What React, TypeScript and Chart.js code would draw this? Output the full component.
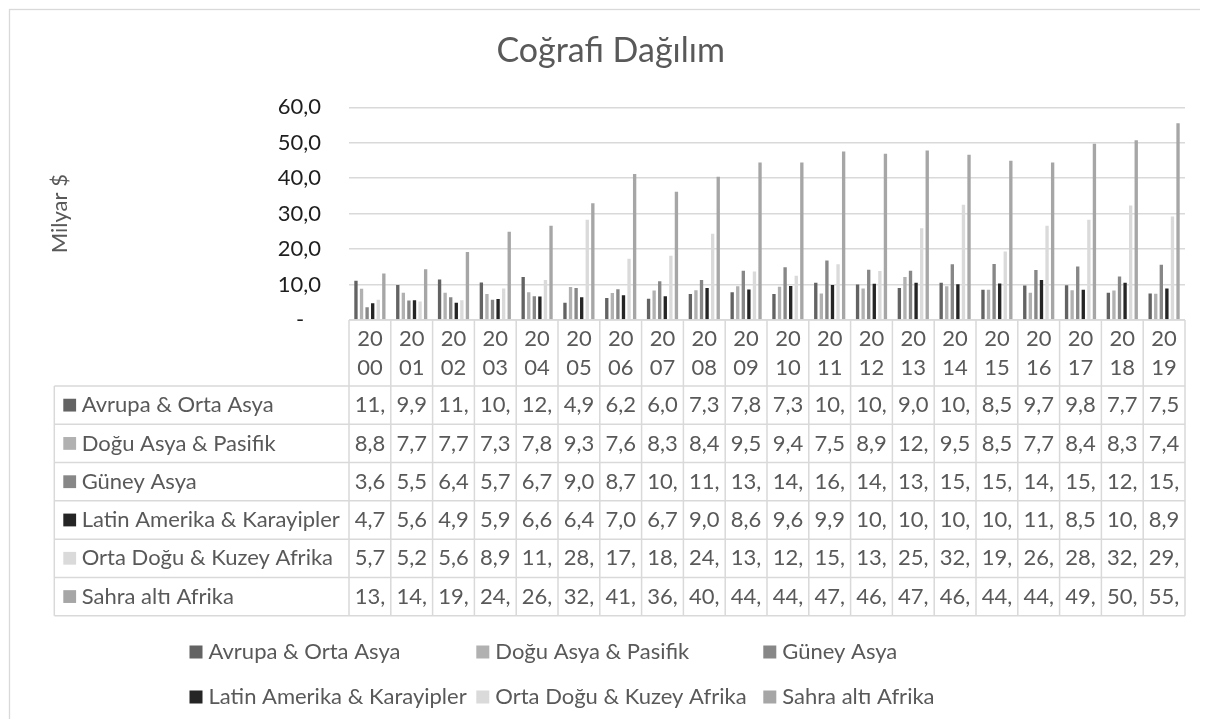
import React, { useEffect, useRef } from 'react';
import { Chart, registerables } from 'chart.js';

Chart.register(...registerables);

const years = ['2000', '2001', '2002', '2003', '2004', '2005', '2006', '2007', '2008', '2009', '2010', '2011', '2012', '2013', '2014', '2015', '2016', '2017', '2018', '2019'];

const seriesNames = ['Avrupa & Orta Asya', 'Doğu Asya & Pasifik', 'Güney Asya', 'Latin Amerika & Karayipler', 'Orta Doğu & Kuzey Afrika', 'Sahra altı Afrika'];

const avrupaOrtaAsya = [11.1, 9.9, 11.4, 10.6, 12.1, 4.9, 6.2, 6.0, 7.3, 7.8, 7.3, 10.5, 10.0, 9.0, 10.5, 8.5, 9.7, 9.8, 7.7, 7.5];
const doguAsyaPasifik = [8.8, 7.7, 7.7, 7.3, 7.8, 9.3, 7.6, 8.3, 8.4, 9.5, 9.4, 7.5, 8.9, 12.1, 9.5, 8.5, 7.7, 8.4, 8.3, 7.4];
const guneyAsya = [3.6, 5.5, 6.4, 5.7, 6.7, 9.0, 8.7, 10.9, 11.3, 13.9, 14.9, 16.8, 14.2, 13.9, 15.7, 15.8, 14.1, 15.1, 12.3, 15.6];
const latinAmerika = [4.7, 5.6, 4.9, 5.9, 6.6, 6.4, 7.0, 6.7, 9.0, 8.6, 9.6, 9.9, 10.2, 10.5, 10.1, 10.3, 11.3, 8.5, 10.5, 8.9];
const ortaDoguKuzeyAfrika = [5.7, 5.2, 5.6, 8.9, 11.3, 28.3, 17.3, 18.1, 24.3, 13.7, 12.5, 15.7, 13.8, 25.9, 32.5, 19.3, 26.6, 28.3, 32.3, 29.2];
const sahraAltiAfrika = [13.1, 14.3, 19.2, 24.9, 26.6, 32.9, 41.2, 36.2, 40.4, 44.4, 44.4, 47.5, 46.9, 47.8, 46.6, 44.9, 44.4, 49.7, 50.7, 55.5];

const seriesValues = [avrupaOrtaAsya, doguAsyaPasifik, guneyAsya, latinAmerika, ortaDoguKuzeyAfrika, sahraAltiAfrika];
const seriesColors = ['#636363', '#b1b1b1', '#878787', '#252525', '#dadada', '#a6a6a6'];

const yTicks = [0, 10, 20, 30, 40, 50, 60];
const chartTitle = 'Coğrafi Dağılım';
const yTitle = 'Milyar $';

const FONT = 'Lato, "Noto Sans", sans-serif';
const TEXT = '#595959';
const LINE = '#d9d9d9';
const FS = 22;

function fmt(v: number) {
  return v.toFixed(1).replace('.', ',');
}

export default function App() {
  const ref = useRef<HTMLCanvasElement>(null);

  useEffect(() => {
    const canvas = ref.current;
    if (!canvas) return;

    const bgPlugin = {
      id: 'bgBorder',
      beforeDraw(chart: any) {
        const ctx = chart.ctx;
        ctx.save();
        ctx.fillStyle = '#ffffff';
        ctx.fillRect(0, 0, chart.width, chart.height);
        ctx.strokeStyle = LINE;
        ctx.lineWidth = 1.3;
        ctx.strokeRect(1.5, 1.5, chart.width + 50, chart.height + 50);
        ctx.restore();
      },
    };

    const tablePlugin = {
      id: 'tableLegend',
      afterDraw(chart: any) {
        const ctx = chart.ctx;
        const area = chart.chartArea;
        const n = years.length;
        const colW = (area.right - area.left) / n;
        const headTop = area.bottom;
        const headBottom = 378;
        const tableBottom = 607.7;
        const tableLeft = 46.3;
        const rowH = (tableBottom - headBottom) / seriesNames.length;

        ctx.save();
        // title
        ctx.fillStyle = TEXT;
        ctx.font = `34px ${FONT}`;
        ctx.textAlign = 'center';
        ctx.textBaseline = 'alphabetic';
        ctx.fillText(chartTitle, 602.7, 54);

        // grid lines
        ctx.strokeStyle = LINE;
        ctx.lineWidth = 1.5;
        ctx.beginPath();
        ctx.moveTo(area.left, headTop);
        ctx.lineTo(area.right, headTop);
        for (let r = 0; r <= seriesNames.length; r++) {
          const y = headBottom + r * rowH;
          ctx.moveTo(tableLeft, y);
          ctx.lineTo(area.right, y);
        }
        ctx.moveTo(tableLeft, headBottom);
        ctx.lineTo(tableLeft, tableBottom);
        for (let i = 0; i <= n; i++) {
          const x = area.left + i * colW;
          ctx.moveTo(x, headTop);
          ctx.lineTo(x, tableBottom);
        }
        ctx.stroke();

        // header years
        ctx.fillStyle = TEXT;
        ctx.font = `${FS}px ${FONT}`;
        ctx.textAlign = 'center';
        ctx.textBaseline = 'middle';
        years.forEach((yr, i) => {
          const cx = chart.scales.x.getPixelForValue(i);
          ctx.fillText(yr.slice(0, 2), cx, 331);
          ctx.fillText(yr.slice(2), cx, 360);
        });

        // rows
        seriesNames.forEach((name, r) => {
          const cy = headBottom + r * rowH + rowH / 2;
          ctx.fillStyle = chart.data.datasets[r].backgroundColor;
          ctx.fillRect(55.3, cy - 6.4, 12.8, 12.8);
          ctx.fillStyle = TEXT;
          ctx.textAlign = 'left';
          ctx.fillText(name, 73.7, cy);
          ctx.textAlign = 'center';
          const vals = chart.data.datasets[r].data as number[];
          vals.forEach((v, i) => {
            let s = fmt(v);
            while (s.length > 1 && ctx.measureText(s).width > colW - 3) s = s.slice(0, -1);
            const cx = chart.scales.x.getPixelForValue(i);
            ctx.fillText(s, cx, cy);
          });
        });

        // legend
        const lx = [181.5, 468.3, 755.3];
        const ly = [644, 689];
        chart.data.datasets.forEach((ds: any, k: number) => {
          const x = lx[k % 3];
          const y = ly[Math.floor(k / 3)];
          ctx.fillStyle = ds.backgroundColor;
          ctx.fillRect(x, y - 6.5, 13, 13);
          ctx.fillStyle = TEXT;
          ctx.textAlign = 'left';
          ctx.fillText(ds.label, x + 19, y);
        });
        ctx.restore();
      },
    };

    const chart = new Chart(canvas, {
      type: 'bar',
      data: {
        labels: years,
        datasets: seriesNames.map((name, k) => ({
          label: name,
          data: seriesValues[k],
          backgroundColor: seriesColors[k],
          borderWidth: 0,
          categoryPercentage: 0.8,
          barPercentage: 0.6,
        })),
      },
      options: {
        responsive: false,
        animation: false,
        devicePixelRatio: 1,
        layout: { padding: { top: 99.3, left: 0, right: 23, bottom: 399 } },
        plugins: {
          legend: { display: false },
          title: { display: false },
          tooltip: { enabled: false },
        },
        scales: {
          x: { display: false },
          y: {
            min: 0,
            max: 60,
            afterFit(scale: any) {
              scale.width = 341;
            },
            afterBuildTicks(scale: any) {
              scale.ticks = yTicks.map((v) => ({ value: v }));
            },
            ticks: {
              padding: 28,
              color: '#1e1e1e',
              font: { family: FONT, size: FS },
              callback: (v: any) => (Number(v) === 0 ? '-   ' : fmt(Number(v))),
            },
            grid: { color: LINE, lineWidth: 1.5, drawTicks: false },
            border: { display: false },
            title: {
              display: true,
              text: yTitle,
              color: TEXT,
              font: { family: FONT, size: FS },
              padding: { top: 38.5, bottom: 0 },
            },
          },
        },
      },
      plugins: [bgPlugin, tablePlugin],
    });

    return () => chart.destroy();
  }, []);

  return (
    <div style={{ width: 1200, height: 711 }}>
      <canvas ref={ref} width={1200} height={711} style={{ display: 'block', width: 1200, height: 711 }} />
    </div>
  );
}
